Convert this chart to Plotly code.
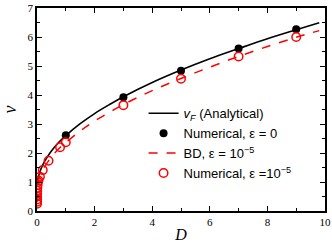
import plotly.graph_objects as go

# Analytical curve v_F
d_analytic = [0.01, 0.03, 0.06, 0.1, 0.2, 0.35, 0.5, 0.75, 1, 1.5, 2, 2.5, 3, 4, 5, 6, 7, 8, 9, 9.8]
v_analytic = [0.96, 1.09, 1.22, 1.35, 1.59, 1.85, 2.07, 2.36, 2.60, 3.01, 3.36, 3.66, 3.94, 4.43, 4.86, 5.25, 5.60, 5.94, 6.25, 6.49]

# Numerical, eps = 0
d_num0 = [1, 3, 5, 7, 9]
v_num0 = [2.61, 3.92, 4.84, 5.60, 6.27]

# BD, eps = 1e-5
d_bd = [0.0005, 0.002, 0.005, 0.01, 0.02, 0.05, 0.1, 0.2, 0.4, 0.6, 0.8, 1, 1.5, 2, 3, 4, 5, 6, 7, 8, 9, 9.8]
v_bd = [0.3, 0.45, 0.6, 0.75, 0.9, 1.05, 1.18, 1.41, 1.73, 1.98, 2.19, 2.36, 2.76, 3.1, 3.67, 4.15, 4.57, 4.96, 5.33, 5.67, 5.99, 6.22]

# Numerical, eps = 1e-5
d_num5 = [0.0002, 0.0005, 0.001, 0.002, 0.004, 0.007, 0.01, 0.02, 0.03, 0.05, 0.1, 0.2, 0.4, 0.8, 1, 3, 5, 7, 9]
v_num5 = [0.25, 0.32, 0.4, 0.5, 0.6, 0.7, 0.8, 0.9, 1.0, 1.05, 1.18, 1.41, 1.73, 2.2, 2.37, 3.65, 4.56, 5.33, 6.0]

x_ticks = [0, 2, 4, 6, 8, 10]
y_ticks = [0, 1, 2, 3, 4, 5, 6, 7]

RED = "#ff0000"
fig = go.Figure()
fig.add_trace(go.Scatter(x=d_analytic, y=v_analytic, mode="lines", line=dict(color="black", width=1.6, shape="spline"),
                         name="<i>v</i><sub><i>F</i></sub> (Analytical)"))
fig.add_trace(go.Scatter(x=d_num0, y=v_num0, mode="markers", marker=dict(color="black", size=8, symbol="circle"),
                         name="Numerical, ε = 0"))
fig.add_trace(go.Scatter(x=d_bd, y=v_bd, mode="lines", line=dict(color=RED, width=1.5, dash="dash", shape="spline"),
                         name="BD, ε = 10<sup>−5</sup>"))
fig.add_trace(go.Scatter(x=d_num5, y=v_num5, mode="markers",
                         marker=dict(color=RED, size=8.5, symbol="circle-open", line=dict(color=RED, width=1.5)),
                         name="Numerical, ε =10<sup>−5</sup>"))

axis_common = dict(showline=True, linecolor="black", linewidth=1.5, mirror="ticks", ticks="inside",
                   tickcolor="black", ticklen=5, tickwidth=1, showgrid=False, zeroline=False, automargin=False,
                   tickfont=dict(family="Liberation Serif", size=11, color="black"))

fig.update_xaxes(range=[0, 10], tickvals=x_ticks, ticktext=[str(t) for t in x_ticks],
                 minor=dict(ticks="inside", dtick=1, ticklen=3, tickcolor="black"),
                 title=dict(text="<i>D</i>", font=dict(family="Liberation Serif", size=16, color="black")),
                 **axis_common)
fig.update_yaxes(range=[0, 7], tickvals=y_ticks, ticktext=[str(t) for t in y_ticks],
                 minor=dict(ticks="inside", dtick=0.5, ticklen=3, tickcolor="black"),
                 title=dict(text="<i>v</i>", font=dict(family="Liberation Serif", size=18, color="black")),
                 **axis_common)

fig.update_layout(width=332, height=243, margin=dict(l=37, r=7, t=8, b=32, autoexpand=False),
                  paper_bgcolor="white", plot_bgcolor="white",
                  font=dict(family="Liberation Sans", size=13, color="black"),
                  legend=dict(x=0.37, y=0.555, xanchor="left", yanchor="top", bgcolor="rgba(0,0,0,0)",
                              tracegroupgap=0, itemwidth=30, font=dict(size=13)),
                  showlegend=True)

fig.write_html("out.html", config={"displayModeBar": False},
               post_script="document.body.style.margin='0';")
